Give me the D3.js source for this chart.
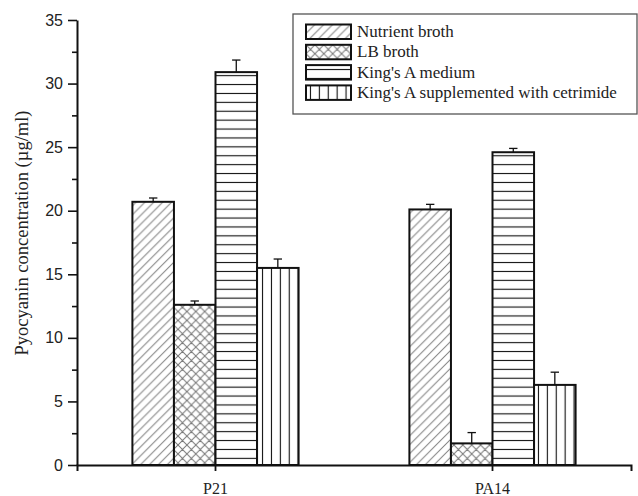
<!DOCTYPE html>
<html>
<head>
<meta charset="utf-8">
<script src="https://cdn.jsdelivr.net/npm/d3@7"></script>
<style>
  html, body { margin: 0; padding: 0; background: #fff; }
  svg { display: block; }
</style>
</head>
<body>
<svg id="chart" width="638" height="496"></svg>
<script>
// Strains on the x axis
const categories = ["P21", "PA14"];
// Growth media (one bar per medium in each strain group)
const media = ["Nutrient broth", "LB broth", "King's A medium", "King's A supplemented with cetrimide"];
// Mean pyocyanin concentration (µg/ml), per strain
const nutrientBroth = [20.7, 20.1];
const lbBroth = [12.6, 1.7];
const kingsA = [30.9, 24.6];
const kingsACetrimide = [15.5, 6.3];
// Standard deviations (upper error bars)
const nutrientBrothErr = [0.3, 0.4];
const lbBrothErr = [0.3, 0.85];
const kingsAErr = [0.95, 0.3];
const kingsACetrimideErr = [0.7, 1.0];
// Axis ticks
const yMajorTicks = [0, 5, 10, 15, 20, 25, 30, 35];
const yMinorTicks = [2.5, 7.5, 12.5, 17.5, 22.5, 27.5, 32.5];

const values = [nutrientBroth, lbBroth, kingsA, kingsACetrimide];
const errors = [nutrientBrothErr, lbBrothErr, kingsAErr, kingsACetrimideErr];
const patternIds = ["hatch-diag", "hatch-cross", "hatch-horiz", "hatch-vert"];

const rows = [];
categories.forEach((c, ci) => {
  media.forEach((m, mi) => {
    rows.push({ cat: c, medium: m, mi, value: values[mi][ci], err: errors[mi][ci] });
  });
});

const svg = d3.select("#chart");
const plot = { left: 77, right: 631, top: 20, bottom: 465 };
const serif = "'Liberation Serif', 'Times New Roman', serif";
const sans = "'Liberation Sans', Arial, sans-serif";

const x = d3.scaleBand().domain(categories).range([plot.left, plot.right]).paddingInner(0).paddingOuter(0);
const groupWidth = x.bandwidth() * 0.6;
const xSub = d3.scaleBand().domain(media).range([0, groupWidth]).padding(0);
const y = d3.scaleLinear().domain([0, 35]).range([plot.bottom, plot.top]);

// Fill patterns
const defs = svg.append("defs");
const sp = 8.9;
const diagPath = `M0,${sp} L${sp},0 M${-sp / 2},${sp / 2} L${sp / 2},${-sp / 2} M${sp / 2},${sp * 1.5} L${sp * 1.5},${sp / 2}`;
const backPath = `M0,0 L${sp},${sp} M${-sp / 2},${sp / 2} L${sp / 2},${sp * 1.5} M${sp / 2},${-sp / 2} L${sp * 1.5},${sp / 2}`;

const pDiag = defs.append("pattern").attr("id", "hatch-diag").attr("patternUnits", "userSpaceOnUse")
  .attr("width", sp).attr("height", sp);
pDiag.append("rect").attr("width", sp).attr("height", sp).attr("fill", "#fff");
pDiag.append("path").attr("d", diagPath).attr("stroke", "#808080").attr("stroke-width", 1);

const pCross = defs.append("pattern").attr("id", "hatch-cross").attr("patternUnits", "userSpaceOnUse")
  .attr("width", sp).attr("height", sp);
pCross.append("rect").attr("width", sp).attr("height", sp).attr("fill", "#fff");
pCross.append("path").attr("d", diagPath + " " + backPath).attr("stroke", "#777").attr("stroke-width", 1);

const pHoriz = defs.append("pattern").attr("id", "hatch-horiz").attr("patternUnits", "userSpaceOnUse")
  .attr("width", sp).attr("height", sp);
pHoriz.append("rect").attr("width", sp).attr("height", sp).attr("fill", "#fff");
pHoriz.append("line").attr("x1", 0).attr("x2", sp).attr("y1", sp / 2).attr("y2", sp / 2)
  .attr("stroke", "#111").attr("stroke-width", 1.1);

const pVert = defs.append("pattern").attr("id", "hatch-vert").attr("patternUnits", "userSpaceOnUse")
  .attr("width", sp).attr("height", sp);
pVert.append("rect").attr("width", sp).attr("height", sp).attr("fill", "#fff");
pVert.append("line").attr("y1", 0).attr("y2", sp).attr("x1", sp / 2).attr("x2", sp / 2)
  .attr("stroke", "#111").attr("stroke-width", 1.1);

// Bars
const barX = d => x(d.cat) + (x.bandwidth() - groupWidth) / 2 + xSub(d.medium);

svg.append("g").selectAll("rect").data(rows).join("rect")
  .attr("x", barX)
  .attr("y", d => y(d.value))
  .attr("width", xSub.bandwidth())
  .attr("height", d => y(0) - y(d.value))
  .attr("fill", d => `url(#${patternIds[d.mi]})`)
  .attr("stroke", "#111")
  .attr("stroke-width", 2);

// Error bars (upper half only)
const eb = svg.append("g").attr("stroke", "#111").attr("stroke-width", 1.3);
eb.selectAll("line.stem").data(rows).join("line").attr("class", "stem")
  .attr("x1", d => barX(d) + xSub.bandwidth() / 2)
  .attr("x2", d => barX(d) + xSub.bandwidth() / 2)
  .attr("y1", d => y(d.value))
  .attr("y2", d => y(d.value + d.err));
eb.selectAll("line.cap").data(rows).join("line").attr("class", "cap")
  .attr("x1", d => barX(d) + xSub.bandwidth() / 2 - 4.2)
  .attr("x2", d => barX(d) + xSub.bandwidth() / 2 + 4.2)
  .attr("y1", d => y(d.value + d.err))
  .attr("y2", d => y(d.value + d.err));

// Y axis
const yAxis = svg.append("g").attr("transform", `translate(${plot.left},0)`)
  .call(d3.axisLeft(y).tickValues(yMajorTicks).tickSize(9).tickSizeOuter(0).tickPadding(5));
yAxis.select(".domain").attr("stroke", "#111").attr("stroke-width", 2);
yAxis.selectAll(".tick line").attr("stroke", "#111").attr("stroke-width", 1.6);
yAxis.selectAll(".tick text").attr("font-family", sans)
  .attr("font-size", 16).attr("fill", "#222");
const yMinor = svg.append("g").attr("transform", `translate(${plot.left},0)`)
  .call(d3.axisLeft(y).tickValues(yMinorTicks).tickSize(5).tickSizeOuter(0).tickFormat(""));
yMinor.select(".domain").remove();
yMinor.selectAll(".tick line").attr("stroke", "#111").attr("stroke-width", 1.6);

// X axis
const xAxis = svg.append("g").attr("transform", `translate(0,${plot.bottom})`)
  .call(d3.axisBottom(x).tickSize(6).tickSizeOuter(6).tickPadding(12));
xAxis.select(".domain").attr("stroke", "#111").attr("stroke-width", 2);
xAxis.selectAll(".tick line").attr("stroke", "#111").attr("stroke-width", 1.8);
xAxis.selectAll(".tick text").attr("font-family", serif)
  .attr("font-size", 16).attr("fill", "#222");

// Y axis title
svg.append("text")
  .attr("transform", `translate(24,233) rotate(-90)`)
  .attr("text-anchor", "middle")
  .attr("dominant-baseline", "middle")
  .attr("font-family", serif)
  .attr("font-size", 18.5).attr("fill", "#222")
  .text("Pyocyanin concentration (\u00b5g/ml)");

// Legend
const legend = svg.append("g");
legend.append("rect").attr("x", 293).attr("y", 14).attr("width", 344).attr("height", 100)
  .attr("fill", "#fff").attr("stroke", "#555").attr("stroke-width", 1.3);
const lg = legend.selectAll("g.item").data(media).join("g").attr("class", "item")
  .attr("transform", (d, i) => `translate(306,${24.5 + i * 20.3})`);
lg.append("rect").attr("width", 45).attr("height", 14.5)
  .attr("fill", (d, i) => `url(#${patternIds[i]})`)
  .attr("stroke", "#111").attr("stroke-width", 2);
lg.append("text").attr("x", 51).attr("y", 8.5)
  .attr("dominant-baseline", "middle")
  .attr("font-family", serif)
  .attr("font-size", 17).attr("fill", "#222")
  .text(d => d);
</script>
</body>
</html>
